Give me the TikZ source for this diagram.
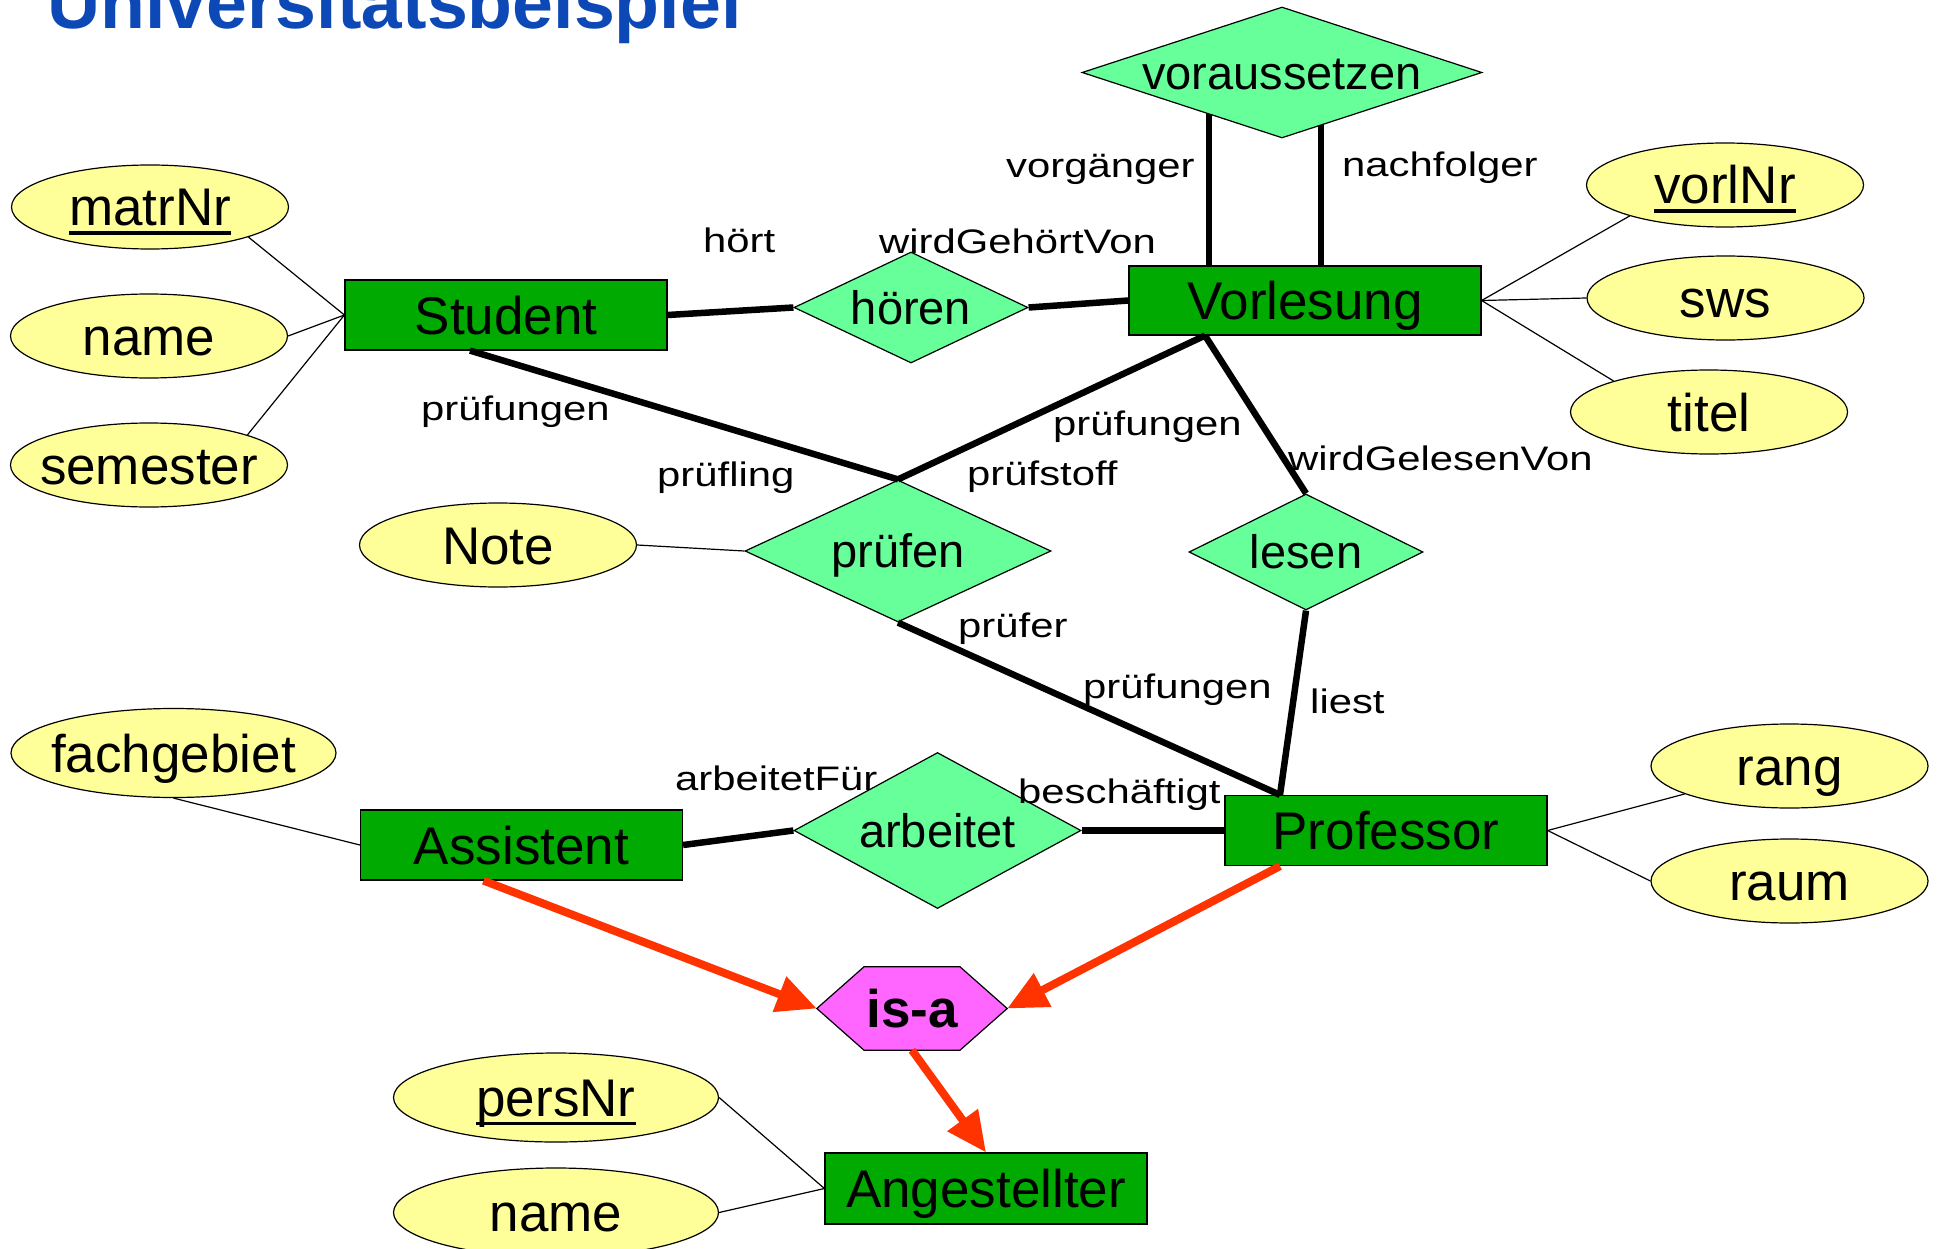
\documentclass[tikz,border=0pt]{standalone}
\usepackage{fontspec}
\setmainfont{Liberation Sans}
\newfontfamily\lblfont[FakeStretch=1.23]{Liberation Sans}
\usetikzlibrary{shapes.geometric,arrows.meta,backgrounds}
\definecolor{entgreen}{RGB}{0,170,0}
\definecolor{relgreen}{RGB}{102,255,153}
\definecolor{attryellow}{RGB}{255,255,153}
\definecolor{isapink}{RGB}{255,102,255}
\definecolor{isared}{RGB}{255,51,0}
\definecolor{titleblue}{RGB}{12,72,182}
\newcommand{\keyattr}[1]{\sbox0{#1}\rlap{\rule[-8.7pt]{\wd0}{3.3pt}}\usebox0}
\tikzset{
  entity/.style={draw, line width=1.2pt, fill=entgreen, minimum width=322pt, minimum height=70pt,
    inner sep=0pt, font=\fontsize{53pt}{60pt}\selectfont, text height=38pt, text depth=0pt},
  relship/.style={diamond, draw, line width=1.2pt, fill=relgreen, aspect=2, inner sep=0pt,
    font=\fontsize{47pt}{56pt}\selectfont, text height=33.6pt, text depth=0pt},
  attr/.style={ellipse, draw, line width=1.2pt, fill=attryellow, minimum width=277pt, minimum height=84pt,
    inner xsep=-45pt, inner ysep=0pt, font=\fontsize{53pt}{60pt}\selectfont, text height=38pt, text depth=0pt},
  wideattr/.style={attr, minimum width=325pt, minimum height=89pt},
  role/.style={anchor=base west, inner sep=0pt, font=\lblfont\fontsize{34pt}{40pt}\selectfont},
  isanode/.style={minimum width=190pt, minimum height=83pt, inner sep=0pt,
    font=\bfseries\fontsize{53pt}{60pt}\selectfont, text height=38pt, text depth=0pt},
  isashape/.style={draw, line width=1.2pt, fill=isapink},
  rel/.style={line width=6.5pt},
  attrline/.style={line width=1.2pt},
  isaarrow/.style={draw=isared, line width=8pt, -{Triangle[length=40pt,width=36pt]}},
}
\begin{document}
\begin{tikzpicture}[x=1pt, y=-1pt]
\useasboundingbox (0,0) rectangle (1948,1249);
\clip (0,0) rectangle (1948,1249);

\node[anchor=base west, inner sep=0pt, text=titleblue, font=\bfseries\fontsize{73.5pt}{80pt}\selectfont] (title) at (47,29) {Universitätsbeispiel};

\node[entity] (Student) at (506,315) {Student};
\node[entity, minimum width=352pt, minimum height=69pt] (Vorlesung) at (1305,300.5) {Vorlesung};
\node[entity] (Assistent) at (521.5,845) {Assistent};
\node[entity] (Professor) at (1386,830.5) {Professor};
\node[entity, minimum height=71pt] (Angestellter) at (986,1188.5) {Angestellter};

\node[relship, aspect=3.05, minimum width=400pt, minimum height=131pt] (voraussetzen) at (1282,72.5) {voraussetzen};
\node[relship, minimum width=234pt, minimum height=111pt] (hoeren) at (911,307.5) {hören};
\node[relship, minimum width=306pt, minimum height=142pt] (pruefen) at (898,551) {prüfen};
\node[relship, minimum width=234pt, minimum height=116pt] (lesen) at (1306,552) {lesen};
\node[relship, minimum width=287pt, minimum height=156pt] (arbeitet) at (937.5,830.5) {arbeitet};

\node[isanode] (isa) at (912,1008.5) {is-a};

\node[attr] (matrNr) at (150,207) {\keyattr{matrNr}};
\node[attr] (sname) at (149,336) {name};
\node[attr] (semester) at (149,465) {semester};
\node[attr] (note) at (498,545) {Note};
\node[attr] (vorlNr) at (1725,185) {\keyattr{vorlNr}};
\node[attr] (sws) at (1725.5,298) {sws};
\node[attr] (titel) at (1709,412) {titel};
\node[wideattr] (fachgebiet) at (173.5,753) {fachgebiet};
\node[attr] (rang) at (1789.5,766) {rang};
\node[attr] (raum) at (1789.5,881) {raum};
\node[wideattr] (persNr) at (556,1097.5) {\keyattr{persNr}};
\node[wideattr] (aname) at (556,1212.5) {name};

\node[role] (lhoert) at (703,253) {hört};
\node[role] (lwirdgehoert) at (879,254) {wirdGehörtVon};
\node[role] (lvorgaenger) at (1006,178) {vorgänger};
\node[role] (lnachfolger) at (1342,177) {nachfolger};
\node[role] (lpruefstud) at (421,420) {prüfungen};
\node[role] (lpruefling) at (657,486) {prüfling};
\node[role] (lpruefvorl) at (1053,435) {prüfungen};
\node[role] (lpruefstoff) at (967,485) {prüfstoff};
\node[role] (lwirdgelesen) at (1288,470) {wirdGelesenVon};
\node[role] (lpruefer) at (958,637) {prüfer};
\node[role] (lpruefprof) at (1083,698) {prüfungen};
\node[role] (lliest) at (1310,713) {liest};
\node[role] (larbeitetfuer) at (675,790) {arbeitetFür};
\node[role] (lbeschaeftigt) at (1018,803) {beschäftigt};

\draw[attrline] (matrNr.-17) -- (Student.west);
\draw[attrline] (sname.east) -- (Student.west);
\draw[attrline] (semester.17) -- (Student.west);
\draw[attrline] (note.east) -- (pruefen.west);
\draw[attrline] (vorlNr.198) -- (Vorlesung.east);
\draw[attrline] (sws.west) -- (Vorlesung.east);
\draw[attrline] (titel.162) -- (Vorlesung.east);
\draw[attrline] (fachgebiet.south) -- (Assistent.west);
\draw[attrline] (rang) -- (Professor.east);
\draw[attrline] (raum.west) -- (Professor.east);
\draw[attrline] (persNr.east) -- (Angestellter.west);
\draw[attrline] (aname.east) -- (Angestellter.west);

\draw[rel] (Student.east) -- (hoeren.west);
\draw[rel] (hoeren.east) -- (Vorlesung.west);
\draw[rel] ([xshift=-36pt]Student.south) -- (pruefen.north);
\draw[rel] (pruefen.north) -- ([xshift=-100pt]Vorlesung.south);
\draw[rel] ([xshift=-100pt]Vorlesung.south) -- (lesen.north);
\draw[rel] (pruefen.south) -- ([xshift=-106pt]Professor.north);
\draw[rel] (lesen.south) -- ([xshift=-106pt]Professor.north);
\draw[rel] (Assistent.east) -- (arbeitet.west);
\draw[rel] (arbeitet.east) -- (Professor.west);

\draw[isaarrow] ([xshift=-38pt]Assistent.south) -- (isa.west);
\draw[isaarrow] ([xshift=-106pt]Professor.south) -- (isa.east);
\draw[isaarrow] (isa.south) -- (Angestellter.north);

\begin{scope}[on background layer]
\draw[rel] ([xshift=-96pt]Vorlesung.north) -- ([xshift=-96pt]Vorlesung.north |- voraussetzen.center);
\draw[rel] ([xshift=16pt]Vorlesung.north) -- ([xshift=16pt]Vorlesung.north |- voraussetzen.center);
\path[isashape] (isa.west) -- ([xshift=-48pt]isa.north) -- ([xshift=48pt]isa.north) -- (isa.east)
  -- ([xshift=48pt]isa.south) -- ([xshift=-48pt]isa.south) -- cycle;
\end{scope}
\end{tikzpicture}
\end{document}
